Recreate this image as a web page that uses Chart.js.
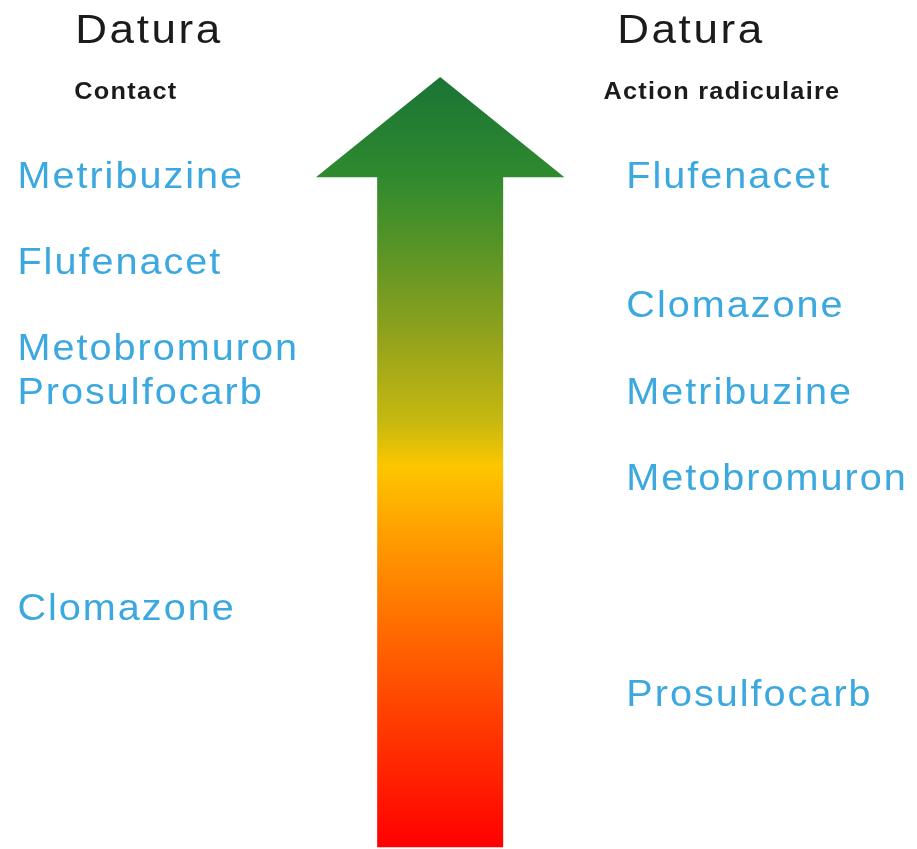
<!DOCTYPE html>
<html><head><meta charset="utf-8">
<script src="https://cdn.jsdelivr.net/npm/chart.js@4.4.1/dist/chart.umd.min.js"></script>
<style>html,body{margin:0;padding:0;background:#fff;overflow:hidden}#wrap{width:917px;height:849px;position:relative}</style>
</head><body><div id="wrap"><canvas id="c"></canvas></div>
<script>
// ---- data ----
const columnTitles = ["Datura", "Datura"];
const columnSubtitles = ["Contact", "Action radiculaire"];
const contactHerbicides = ["Metribuzine", "Flufenacet", "Metobromuron", "Prosulfocarb", "Clomazone"];
const contactEfficacy = [10, 9, 8, 7.5, 5];
const radicularHerbicides = ["Flufenacet", "Clomazone", "Metribuzine", "Metobromuron", "Prosulfocarb"];
const radicularEfficacy = [10, 8.5, 7.5, 6.5, 4];

// ---- layout (scale units) ----
const layout = {
  labelX: [0.19, 6.83],
  titleX: [0.82, 6.73],
  subtitleX: [0.81, 6.58],
  titleY: 11.69,
  subtitleY: 10.97,
  arrowX: 4.8, shaftHalf: 0.687, headHalf: 1.355,
  arrowTip: 11.13, headBase: 9.97, arrowBottom: 2.22,
  yMin: 2.2, yMax: 12.02
};
const FONT = '"Liberation Sans", Arial, Helvetica, sans-serif';
const SX = 1.1;

function spacedText(ctx, text, x, yCenter, size, weight, color, spacing) {
  ctx.save();
  ctx.font = weight + ' ' + size + 'px ' + FONT;
  ctx.fillStyle = color;
  ctx.textAlign = 'left';
  ctx.textBaseline = 'alphabetic';
  const base = yCenter + 0.358 * size;
  let cx = x;
  for (const ch of text) {
    ctx.save();
    ctx.translate(cx, base);
    ctx.scale(SX, 1);
    ctx.fillText(ch, 0, 0);
    ctx.restore();
    cx += ctx.measureText(ch).width * SX + spacing;
  }
  ctx.restore();
}

const arrowPlugin = {
  id: 'arrow',
  beforeDatasetsDraw(chart) {
    const { ctx, scales: { x, y } } = chart;
    const cx = x.getPixelForValue(layout.arrowX);
    const sL = x.getPixelForValue(layout.arrowX - layout.shaftHalf);
    const sR = x.getPixelForValue(layout.arrowX + layout.shaftHalf);
    const hL = x.getPixelForValue(layout.arrowX - layout.headHalf);
    const hR = x.getPixelForValue(layout.arrowX + layout.headHalf);
    const tip = y.getPixelForValue(layout.arrowTip);
    const base = y.getPixelForValue(layout.headBase);
    const bot = y.getPixelForValue(layout.arrowBottom);
    const g = ctx.createLinearGradient(0, tip, 0, bot);
    const stops = [[0, '#1a7436'], [0.13, '#2f8a2e'], [0.22, '#579426'], [0.33, '#8ea11d'],
      [0.45, '#c8b910'], [0.505, '#fdc600'], [0.6, '#ff9c00'], [0.72, '#ff6a00'],
      [0.86, '#ff3300'], [1, '#ff0000']];
    stops.forEach(s => g.addColorStop(s[0], s[1]));
    ctx.save();
    ctx.beginPath();
    ctx.moveTo(cx, tip);
    ctx.lineTo(hR, base);
    ctx.lineTo(sR, base);
    ctx.lineTo(sR, bot);
    ctx.lineTo(sL, bot);
    ctx.lineTo(sL, base);
    ctx.lineTo(hL, base);
    ctx.closePath();
    ctx.fillStyle = g;
    ctx.fill();
    ctx.restore();
  }
};

const labelPlugin = {
  id: 'labels',
  afterDatasetsDraw(chart) {
    const { ctx, scales: { x, y } } = chart;
    chart.data.datasets.forEach((ds, di) => {
      const meta = chart.getDatasetMeta(di);
      meta.data.forEach((pt, i) => {
        spacedText(ctx, ds.names[i], pt.x, pt.y, 36, 'normal', '#3ba8df', 2.0);
      });
      spacedText(ctx, columnTitles[di], x.getPixelForValue(layout.titleX[di]),
        y.getPixelForValue(layout.titleY), 40, 'normal', '#1b1b1b', 2.6);
      spacedText(ctx, columnSubtitles[di], x.getPixelForValue(layout.subtitleX[di]),
        y.getPixelForValue(layout.subtitleY), 23, 'bold', '#1b1b1b', 1.3);
    });
  }
};

new Chart(document.getElementById('c'), {
  type: 'scatter',
  data: {
    datasets: [
      { label: columnSubtitles[0], names: contactHerbicides,
        data: contactEfficacy.map(v => ({ x: layout.labelX[0], y: v })), pointRadius: 0 },
      { label: columnSubtitles[1], names: radicularHerbicides,
        data: radicularEfficacy.map(v => ({ x: layout.labelX[1], y: v })), pointRadius: 0 }
    ]
  },
  options: {
    responsive: true, maintainAspectRatio: false, animation: false,
    layout: { padding: 0 },
    plugins: { legend: { display: false }, tooltip: { enabled: false }, title: { display: false } },
    scales: {
      x: { type: 'linear', display: false, min: 0, max: 10 },
      y: { type: 'linear', display: false, min: layout.yMin, max: layout.yMax }
    }
  },
  plugins: [arrowPlugin, labelPlugin]
});
</script></body></html>
